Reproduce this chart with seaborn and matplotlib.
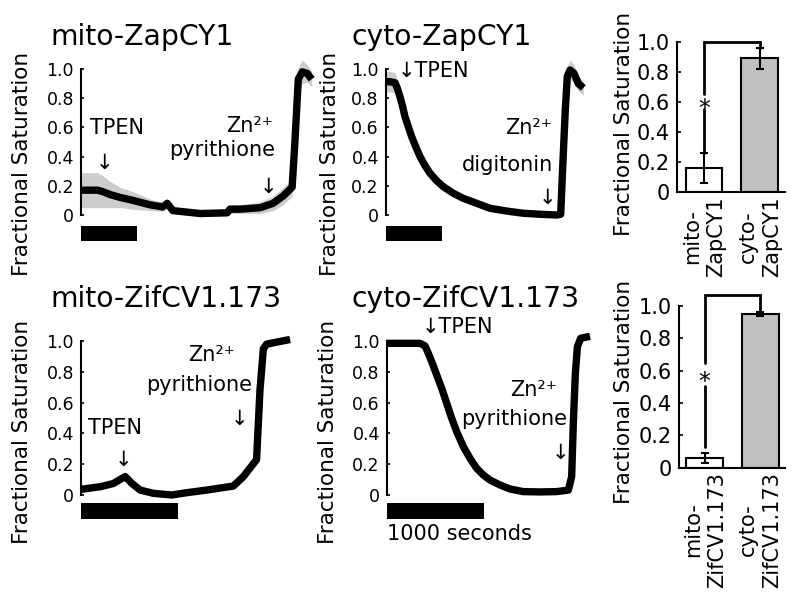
import numpy as np
import pandas as pd
import matplotlib
matplotlib.use("Agg")
import matplotlib.pyplot as plt
import matplotlib.transforms as mtransforms
import seaborn as sns

# ---------------- data ----------------
# traces: time (s) and fractional saturation (mean) with spread (grey band)
mzap_t = [0, 160, 290, 390, 520, 700, 930, 1230, 1460, 1540, 1640, 1890, 2130, 2610,
          2660, 2840, 3200, 3430, 3610, 3770, 3820, 3880, 3950, 4040, 4120]
mzap_v = [0.17, 0.17, 0.17, 0.16, 0.14, 0.12, 0.10, 0.07, 0.055, 0.08, 0.03, 0.02, 0.01,
          0.015, 0.04, 0.04, 0.05, 0.08, 0.13, 0.19, 0.50, 0.93, 0.98, 0.97, 0.93]
mzap_sd = [0.12, 0.12, 0.12, 0.11, 0.09, 0.07, 0.06, 0.04, 0.03, 0.03, 0.02, 0.02, 0.02,
           0.02, 0.03, 0.03, 0.04, 0.05, 0.06, 0.06, 0.08, 0.08, 0.08, 0.06, 0.05]

czap_t = [0, 77, 166, 208, 255, 303, 345, 404, 464, 536, 613, 702, 791, 910, 1029,
          1207, 1386, 1625, 1863, 2161, 2457, 2755, 3054, 3125, 3161, 3207, 3243,
          3291, 3363, 3440, 3529]
czap_v = [0.913, 0.913, 0.906, 0.868, 0.81, 0.742, 0.673, 0.605, 0.536, 0.468, 0.40,
          0.338, 0.286, 0.235, 0.194, 0.149, 0.114, 0.08, 0.046, 0.027, 0.012, 0.005,
          0.0, 0.005, 0.33, 0.72, 0.95, 0.993, 0.97, 0.90, 0.87]
czap_sd = [0.07, 0.07, 0.07, 0.06, 0.05, 0.045, 0.04, 0.035, 0.03, 0.03, 0.025, 0.02,
           0.02, 0.02, 0.02, 0.015, 0.015, 0.01, 0.01, 0.01, 0.01, 0.01, 0.015, 0.02,
           0.06, 0.07, 0.07, 0.07, 0.06, 0.05, 0.05]

mzif_t = [0, 200, 335, 455, 525, 610, 745, 935, 1090, 1295, 1570, 1675, 1810, 1845,
          1880, 1915, 2155]
mzif_v = [0.037, 0.054, 0.075, 0.12, 0.075, 0.032, 0.011, 0.0, 0.015, 0.032, 0.058,
          0.12, 0.23, 0.68, 0.95, 0.98, 1.01]
mzif_sd = [0.02, 0.02, 0.02, 0.02, 0.02, 0.015, 0.015, 0.015, 0.015, 0.015, 0.015,
           0.02, 0.02, 0.02, 0.02, 0.02, 0.02]

czif_t = [0, 343, 395, 429, 464, 515, 567, 619, 670, 722, 790, 859, 928, 996, 1065,
          1168, 1271, 1408, 1580, 1753, 1873, 1907, 1924, 1945, 1966, 2000, 2096]
czif_v = [0.985, 0.985, 0.968, 0.92, 0.866, 0.78, 0.693, 0.595, 0.498, 0.411, 0.314,
          0.238, 0.173, 0.13, 0.097, 0.065, 0.039, 0.022, 0.02, 0.022, 0.032, 0.12,
          0.466, 0.79, 0.963, 1.018, 1.03]
czif_sd = [0.015, 0.015, 0.015, 0.015, 0.015, 0.015, 0.015, 0.015, 0.015, 0.015,
           0.015, 0.015, 0.015, 0.01, 0.01, 0.01, 0.01, 0.01, 0.01, 0.01, 0.01, 0.02,
           0.02, 0.02, 0.02, 0.015, 0.015]

# bar summaries
zap_labels = ["mito-\nZapCY1", "cyto-\nZapCY1"]
zap_means = [0.16, 0.89]
zap_err = [0.10, 0.07]
zif_labels = ["mito-\nZifCV1.173", "cyto-\nZifCV1.173"]
zif_means = [0.06, 0.95]
zif_err = [0.03, 0.01]

ytick_vals = [0, 0.2, 0.4, 0.6, 0.8, 1.0]
ytick_labels = ["0", "0.2", "0.4", "0.6", "0.8", "1.0"]
ylabel_text = "Fractional Saturation"
ZN = "Zn\u00b2\u207a"

# ---------------- style ----------------
sns.set_theme(style="white", rc={"axes.edgecolor": "black", "text.color": "black",
                                 "axes.labelcolor": "black", "xtick.color": "black",
                                 "ytick.color": "black"})
plt.rcParams["font.family"] = ["DejaVu Sans"]

W, H = 800, 599
fig = plt.figure(figsize=(8, 5.99), dpi=100)
fig.patch.set_facecolor("white")


def rect_px(left, top, right, bottom):
    return [left / W, 1 - bottom / H, (right - left) / W, (bottom - top) / H]


def fpos(px, py):
    return (px / W, 1 - py / H)


def trace_panel(t, v, sd, x0, spp, y0, ppu, tlim, ylim, bar_lo, bar_hi,
                title, title_px, ylab_px):
    left = x0 + tlim[0] * spp
    right = x0 + tlim[1] * spp
    top = y0 - ylim[1] * ppu
    bottom = y0 - ylim[0] * ppu
    ax = fig.add_axes(rect_px(left, top, right, bottom))
    ax.patch.set_alpha(0)
    t = np.asarray(t, float)
    v = np.asarray(v, float)
    sd = np.asarray(sd, float)
    ax.fill_between(t, v - sd, v + sd, color="#cdcdcd", lw=0, zorder=1)
    sns.lineplot(x=t, y=v, ax=ax, color="black", linewidth=5.3, errorbar=None,
                 sort=False, zorder=3, solid_joinstyle="round",
                 solid_capstyle="butt")
    # scale bar: 1000 s
    ax.fill_between([0, 1000], [bar_lo, bar_lo], [bar_hi, bar_hi], color="black",
                    lw=0, zorder=2)
    ax.set_xlim(tlim)
    ax.set_ylim(ylim)
    for s in ["top", "right", "bottom"]:
        ax.spines[s].set_visible(False)
    ax.spines["left"].set_position(("data", 0))
    ax.spines["left"].set_bounds(0, 1)
    ax.spines["left"].set_linewidth(1.5)
    ax.set_xticks([])
    ax.set_xlabel("")
    ax.set_yticks(ytick_vals)
    ax.set_yticklabels(ytick_labels, fontsize=12.5)
    ax.tick_params(axis="y", direction="in", length=2.5, width=1.2, pad=5, left=True)
    ax.set_ylabel(ylabel_text, fontsize=15.5, va="center")
    ax.yaxis.set_label_coords(*fpos(*ylab_px), transform=fig.transFigure)
    fig.text(*fpos(*title_px), title, fontsize=20.3, ha="left", va="baseline")
    return ax


def bar_panel(labels, means, errs, xc0, xc1, axis_px, right_px, y0, ppu, ymax,
              bracket_top, left_lo, star_y, gap, right_lo, ylab_px):
    ppx = xc1 - xc0
    xlim = ((axis_px - xc0) / ppx, (right_px - xc0) / ppx)
    top = y0 - ymax * ppu
    ax = fig.add_axes(rect_px(axis_px, top, right_px, y0))
    ax.patch.set_alpha(0)
    df = pd.DataFrame({"construct": labels, "value": means})
    sns.barplot(data=df, x="construct", y="value", hue="construct",
                palette=["white", "#c0c0c0"], edgecolor="black", linewidth=1.5,
                width=0.66, errorbar=None, legend=False, ax=ax, zorder=2)
    ax.errorbar([0, 1], means, yerr=errs, fmt="none", ecolor="black",
                elinewidth=1.5, capsize=3, capthick=1.5, zorder=3)
    # significance bracket
    ax.plot([0, 0], [left_lo, star_y - gap], color="black", lw=2, zorder=4,
            clip_on=False)
    ax.plot([0, 0, 1, 1], [star_y + gap, bracket_top, bracket_top, right_lo],
            color="black", lw=2, zorder=4, clip_on=False, solid_joinstyle="miter")
    star_tr = mtransforms.offset_copy(ax.transData, fig=fig, y=-10, units="points")
    ax.text(0, star_y, "*", transform=star_tr, ha="center", va="baseline",
            fontsize=17, zorder=5)
    ax.set_xlim(xlim)
    ax.set_ylim(0, ymax)
    for s in ["top", "right"]:
        ax.spines[s].set_visible(False)
    ax.spines["left"].set_bounds(0, 1)
    ax.spines["left"].set_linewidth(1.5)
    ax.spines["bottom"].set_linewidth(1.5)
    ax.set_yticks(ytick_vals)
    ax.set_yticklabels(ytick_labels, fontsize=15)
    ax.tick_params(axis="y", direction="in", length=3, width=1.2, pad=5, left=True)
    ax.set_xticks([0, 1])
    ax.set_xticklabels(labels, rotation=90, ha="center", va="top",
                       multialignment="center", fontsize=15, linespacing=1.25)
    ax.tick_params(axis="x", length=0, pad=3)
    ax.set_xlabel("")
    ax.set_ylabel(ylabel_text, fontsize=15.5, va="center")
    ax.yaxis.set_label_coords(*fpos(*ylab_px), transform=fig.transFigure)
    return ax


ann = dict(fontsize=15)

# ---- panel 1: mito-ZapCY1 ----
ax1 = trace_panel(mzap_t, mzap_v, mzap_sd, x0=81, spp=0.056, y0=215, ppu=146,
                  tlim=(-150, 4300), ylim=(-0.22, 1.1), bar_lo=-0.178, bar_hi=-0.075,
                  title="mito-ZapCY1", title_px=(50, 45), ylab_px=(22, 163.5))
ax1.text(161, 0.555, "TPEN", ha="left", va="baseline", **ann)
ax1.text(411, 0.36, "\u2193", ha="center", va="center", **ann)
ax1.text(3429, 0.566, ZN, ha="right", va="baseline", **ann)
ax1.text(3464, 0.404, "pyrithione", ha="right", va="baseline", **ann)
ax1.text(3340, 0.19, "\u2193", ha="center", va="center", **ann)

# ---- panel 2: cyto-ZapCY1 ----
ax2 = trace_panel(czap_t, czap_v, czap_sd, x0=385.7, spp=0.056, y0=215, ppu=146,
                  tlim=(-150, 3700), ylim=(-0.22, 1.1), bar_lo=-0.178, bar_hi=-0.075,
                  title="cyto-ZapCY1", title_px=(351.7, 45), ylab_px=(329.5, 163.5))
ax2.text(220, 0.943, "\u2193TPEN", ha="left", va="baseline", **ann)
ax2.text(2964, 0.555, ZN, ha="right", va="baseline", **ann)
ax2.text(2988, 0.303, "digitonin", ha="right", va="baseline", **ann)
ax2.text(2893, 0.12, "\u2193", ha="center", va="center", **ann)

# ---- panel 3: ZapCY1 bars ----
bar_panel(zap_labels, zap_means, zap_err, xc0=704, xc1=759.8, axis_px=676.7,
          right_px=785, y0=192.3, ppu=150.6, ymax=1.12, bracket_top=1.0,
          left_lo=0.26, star_y=0.6, gap=0.05, right_lo=0.96, ylab_px=(624, 123.5))

# ---- panel 4: mito-ZifCV1.173 ----
ax4 = trace_panel(mzif_t, mzif_v, mzif_sd, x0=81, spp=0.097, y0=495, ppu=154,
                  tlim=(-100, 2250), ylim=(-0.22, 1.1), bar_lo=-0.158, bar_hi=-0.054,
                  title="mito-ZifCV1.173", title_px=(50, 307), ylab_px=(22, 432))
ax4.text(72, 0.398, "TPEN", ha="left", va="baseline", **ann)
ax4.text(443, 0.226, "\u2193", ha="center", va="center", **ann)
ax4.text(1588, 0.871, ZN, ha="right", va="baseline", **ann)
ax4.text(1763, 0.677, "pyrithione", ha="right", va="baseline", **ann)
ax4.text(1629, 0.497, "\u2193", ha="center", va="center", **ann)

# ---- panel 5: cyto-ZifCV1.173 ----
ax5 = trace_panel(czif_t, czif_v, czif_sd, x0=386.7, spp=0.097, y0=495, ppu=154,
                  tlim=(-100, 2200), ylim=(-0.22, 1.1), bar_lo=-0.158, bar_hi=-0.054,
                  title="cyto-ZifCV1.173", title_px=(351.7, 307), ylab_px=(328.5, 432))
ax5.text(361, 1.054, "\u2193TPEN", ha="left", va="baseline", **ann)
ax5.text(1753, 0.645, ZN, ha="right", va="baseline", **ann)
ax5.text(1856, 0.452, "pyrithione", ha="right", va="baseline", **ann)
ax5.text(1794, 0.271, "\u2193", ha="center", va="center", **ann)
ax5.text(5, -0.295, "1000 seconds", ha="left", va="baseline", fontsize=15)

# ---- panel 6: ZifCV1.173 bars ----
bar_panel(zif_labels, zif_means, zif_err, xc0=704.7, xc1=760.3, axis_px=679,
          right_px=785, y0=467.7, ppu=161.7, ymax=1.12, bracket_top=1.068,
          left_lo=0.13, star_y=0.575, gap=0.07, right_lo=0.975, ylab_px=(624, 392))

fig.savefig("out.png", dpi=100, facecolor="white")
